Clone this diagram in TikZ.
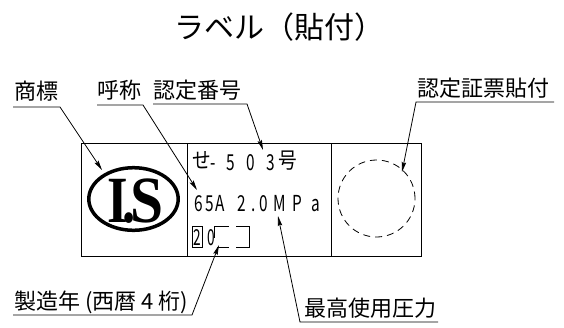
\documentclass[tikz,border=0pt]{standalone}
\usepackage{fontspec}
\setmainfont{Liberation Serif}
\newfontfamily\cjk{Noto Sans CJK JP}
\usetikzlibrary{arrows.meta}
\tikzset{
  lbl/.style={font=\cjk\fontsize{22}{22}\selectfont, inner sep=0pt, anchor=base west},
  ttl/.style={font=\cjk\fontsize{30}{30}\selectfont, inner sep=0pt, anchor=base},
  cellbox/.style={draw, line width=0.9pt, inner sep=0pt, minimum height=113pt},
  lead/.style={line width=0.8pt},
  arr/.style={lead, -{Stealth[length=10pt,width=4.5pt,inset=1.5pt]}},
  ch/.style={font=\cjk\fontsize{22}{22}\selectfont, inner sep=0pt, anchor=base},
  logo/.style={font=\bfseries\fontsize{66}{66}\selectfont, inner sep=0pt, anchor=base},
  slot/.style={line width=0.8pt}
}
\newcommand\nx[1]{\scalebox{0.7}[1]{#1}}
\newcommand\nj[1]{\scalebox{0.85}[1]{#1}}
\begin{document}
\begin{tikzpicture}[x=1pt,y=-1pt]
\useasboundingbox (0,0) rectangle (564,327);
% title
\node[ttl] (title) at (279,38) {ラベル（貼付）};
% cells
\node[cellbox, minimum width=106pt] (c1) at (134,199.5) {};
\node[cellbox, minimum width=144pt] (c2) at (259,199.5) {};
\node[cellbox, minimum width=90pt] (c3) at (376,199.5) {};
% logo
\draw[line width=3.5pt] (133.5,199) ellipse [x radius=44.7, y radius=31.3];
\node[logo] (lI) at (117.5,222) {\scalebox{0.8}[1]{I}};
\node[logo] (lP) at (129.5,222) {\scalebox{0.8}[1]{.}};
\node[logo] (lS) at (147.5,222) {\scalebox{0.9}[1]{S}};
% row 1
\node[ch] (r1a) at (201.5,168.5) {\nj{せ}};
\node[ch] (r1b) at (213,170) {\nx{-}};
\node[ch] (r1c) at (230.5,170) {\nx{5}};
\node[ch] (r1d) at (250.5,170) {\nx{0}};
\node[ch] (r1e) at (270.5,170) {\nx{3}};
\node[ch] (r1f) at (287.5,168.5) {\nj{号}};
% row 2
\node[ch] (r2a) at (198.5,211) {\nx{6}};
\node[ch] (r2b) at (209.5,211) {\nx{5}};
\node[ch] (r2c) at (220.5,211) {\nx{A}};
\node[ch] (r2d) at (242,211) {\nx{2}};
\node[ch] (r2e) at (254,211) {\nx{.}};
\node[ch] (r2f) at (264,211) {\nx{0}};
\node[ch] (r2g) at (280,211) {\nx{M}};
\node[ch] (r2h) at (297,211) {\nx{P}};
\node[ch] (r2i) at (316,211) {\nx{a}};
% row 3
\node[ch] (r3a) at (197.3,245.5) {\scalebox{0.62}[1]{2}};
\node[ch] (r3b) at (211.5,245.5) {\scalebox{0.62}[1]{0}};
\draw[slot] (192,226) rectangle (202.5,247);
\draw[slot] (229,226) -- (214.5,226) -- (214.5,238);
\draw[slot] (217,247) -- (229,247);
\draw[slot] (236,226) -- (249,226) -- (249,247) -- (236,247);
% dashed circle
\node[draw, circle, dashed, dash pattern=on 7pt off 5pt, line width=0.8pt, minimum size=77pt, inner sep=0pt] (stamp) at (376.5,198.5) {};
% labels
\node[lbl] (L1) at (14,99) {商標};
\node[lbl] (L2) at (97,98) {呼称};
\node[lbl] (L3) at (153,98) {認定番号};
\node[lbl] (L4) at (417,96) {認定証票貼付};
\node[lbl] (L5) at (14,309) {製造年 (西暦 4 桁)};
\node[lbl] (L6) at (304,316) {最高使用圧力};
% leader coordinates
\coordinate (u1s) at (13,107);  \coordinate (u1e) at (60,107);  \coordinate (t1) at (102,170);
\coordinate (u2s) at (97,105);  \coordinate (u2e) at (143,105); \coordinate (t2) at (197,190);
\coordinate (u3s) at (153,104); \coordinate (u3e) at (247,104); \coordinate (t3) at (263,150);
\coordinate (u4s) at (554,102); \coordinate (u4e) at (416,102); \coordinate (t4) at (402,172);
\coordinate (u5s) at (13,315);  \coordinate (u5e) at (192,315); \coordinate (t5) at (219,245);
\coordinate (u6s) at (438,322); \coordinate (u6e) at (300,322); \coordinate (t6) at (278,216);
\draw[arr] (u1s) -- (u1e) -- (t1);
\draw[arr] (u2s) -- (u2e) -- (t2);
\draw[arr] (u3s) -- (u3e) -- (t3);
\draw[arr] (u4s) -- (u4e) -- (t4);
\draw[arr] (u5s) -- (u5e) -- (t5);
\draw[arr] (u6s) -- (u6e) -- (t6);
\end{tikzpicture}
\end{document}
